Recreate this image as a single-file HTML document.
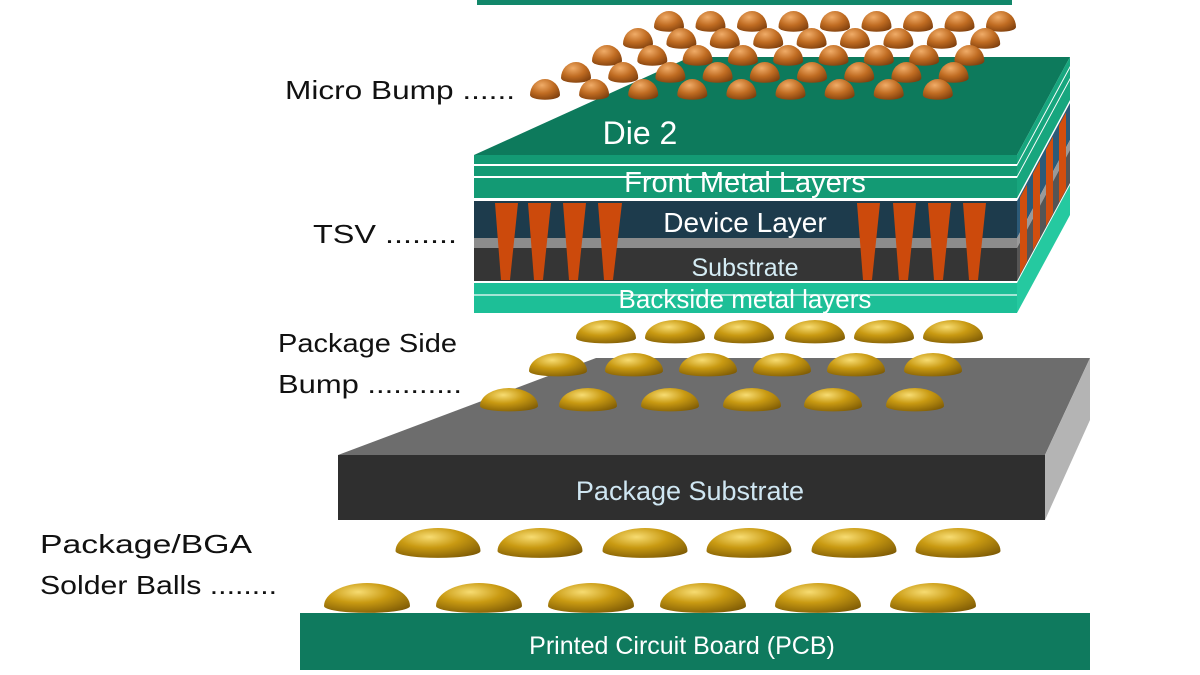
<!DOCTYPE html>
<html><head><meta charset="utf-8"><style>
html,body{margin:0;padding:0;background:#fff;}
svg{display:block;font-family:"Liberation Sans",sans-serif;}
</style></head><body>
<svg id="s" width="1200" height="675" viewBox="0 0 1200 675" xmlns="http://www.w3.org/2000/svg">
<defs>
<radialGradient id="gold" cx="0.4" cy="0.3" r="0.8">
<stop offset="0" stop-color="#f7dc72"/><stop offset="0.45" stop-color="#c99a12"/><stop offset="1" stop-color="#7d5a05"/>
</radialGradient>
<radialGradient id="cu" cx="0.4" cy="0.3" r="0.8">
<stop offset="0" stop-color="#f0ac68"/><stop offset="0.5" stop-color="#c06c22"/><stop offset="1" stop-color="#7a3c0c"/>
</radialGradient>
</defs>
<rect x="477" y="0" width="535" height="5" fill="#12876a"/>
<polygon points="474,155 1017,155 1070,57 690,57" fill="#0d7a5c"/>
<g id="micro"></g>
<text x="640" y="144" font-size="32" fill="#fff" text-anchor="middle">Die 2</text>
<rect x="474" y="155" width="543" height="9" fill="#139a74"/>
<rect x="474" y="164" width="543" height="2" fill="#fff"/>
<rect x="474" y="166" width="543" height="10" fill="#139a74"/>
<rect x="474" y="176" width="543" height="2" fill="#fff"/>
<rect x="474" y="178" width="543" height="20" fill="#139a74"/>
<rect x="474" y="201" width="543" height="37" fill="#1d3b4c"/>
<rect x="474" y="238" width="543" height="10" fill="#8c8c8c"/>
<rect x="474" y="248" width="543" height="33" fill="#353535"/>
<rect x="474" y="283" width="543" height="30" fill="#1dbf97"/>
<rect x="474" y="294" width="543" height="2" fill="#fff" opacity="0.6"/>
<g fill="#cc4a0c">
<polygon points="495,203 518,203 510,280 501,280"/>
<polygon points="528,203 551,203 543,280 534,280"/>
<polygon points="563,203 586,203 578,280 569,280"/>
<polygon points="598,203 622,203 613,280 604,280"/>
<polygon points="857,203 880,203 872,280 863,280"/>
<polygon points="893,203 916,203 908,280 899,280"/>
<polygon points="928,203 951,203 943,280 934,280"/>
<polygon points="963,203 986,203 978,280 969,280"/>
</g>
<g transform="matrix(1,-1.849,0,1,1017,0)">
<rect x="0" y="155" width="53" height="43" fill="#17a67e"/>
<rect x="0" y="164" width="53" height="2" fill="#fff"/>
<rect x="0" y="176" width="53" height="2" fill="#fff"/>
<rect x="0" y="201" width="53" height="37" fill="#2c5a78"/>
<rect x="0" y="238" width="53" height="10" fill="#9a9a9a"/>
<rect x="0" y="248" width="53" height="33" fill="#555"/>
<rect x="0" y="283" width="53" height="30" fill="#25c9a0"/>
<g fill="#d24e0e">
<rect x="3" y="203" width="7" height="77"/><rect x="16" y="203" width="7" height="77"/>
<rect x="29" y="203" width="7" height="77"/><rect x="42" y="203" width="7" height="77"/>
</g>
</g>
<g fill="#fff" text-anchor="middle">
<text x="745" y="192" font-size="29">Front Metal Layers</text>
<text x="745" y="232" font-size="28">Device Layer</text>
<text x="745" y="276" font-size="25" fill="#d4ecf4">Substrate</text>
<text x="745" y="308" font-size="26">Backside metal layers</text>
</g>
<polygon points="338,455 1045,455 1090,358 596,358" fill="#6d6d6d"/>
<polygon points="1045,455 1090,358 1090,420 1045,520" fill="#b4b4b4"/>
<rect x="338" y="455" width="707" height="65" fill="#2f2f2f"/>
<text x="690" y="500" font-size="27" fill="#cfe6f2" text-anchor="middle">Package Substrate</text>
<g id="gb"></g>
<rect x="300" y="613" width="790" height="57" fill="#0f7a5e"/>
<text x="682" y="654" font-size="25" fill="#fff" text-anchor="middle">Printed Circuit Board (PCB)</text>
<g font-size="26" fill="#111">
<text x="285" y="99" textLength="230" lengthAdjust="spacingAndGlyphs">Micro Bump ......</text>
<text x="313" y="243" textLength="144" lengthAdjust="spacingAndGlyphs">TSV ........</text>
<text x="278" y="352" textLength="179" lengthAdjust="spacingAndGlyphs">Package Side</text>
<text x="278" y="393" textLength="184" lengthAdjust="spacingAndGlyphs">Bump ...........</text>
<text x="40" y="553" textLength="212" lengthAdjust="spacingAndGlyphs">Package/BGA</text>
<text x="40" y="594" textLength="237" lengthAdjust="spacingAndGlyphs">Solder Balls ........</text>
</g>
</svg>
<script>
var NS="http://www.w3.org/2000/svg";
function dome(g,cx,by,w,h,fill){
 var p=document.createElementNS(NS,"path");
 var x0=cx-w/2,x1=cx+w/2;
 p.setAttribute("d","M"+x0+" "+by+" A"+(w/2)+" "+h+" 0 0 1 "+x1+" "+by+" A"+(w/2)+" "+(h*0.3)+" 0 0 1 "+x0+" "+by+" Z");
 p.setAttribute("fill",fill);g.appendChild(p);
}
var m=document.getElementById("micro");
for(var i=0;i<5;i++){
 var y=27+17*i, x0=669-31*i, sp=41.5+1.9*i;
 for(var j=0;j<9;j++) dome(m,x0+j*sp,y,30,16,"url(#cu)");
}
var g=document.getElementById("gb");
var rows=[[332,[606,675,744,815,884,953],60,18],[365,[558,634,708,782,856,933],58,18],[400,[509,588,670,752,833,915],58,18],
[545,[438,540,645,749,854,958],85,23],[600,[367,479,591,703,818,933],86,23]];
rows.forEach(function(r){r[1].forEach(function(c){dome(g,c,r[0]+6,r[2],r[3],"url(#gold)");});});
</script>
</body></html>
